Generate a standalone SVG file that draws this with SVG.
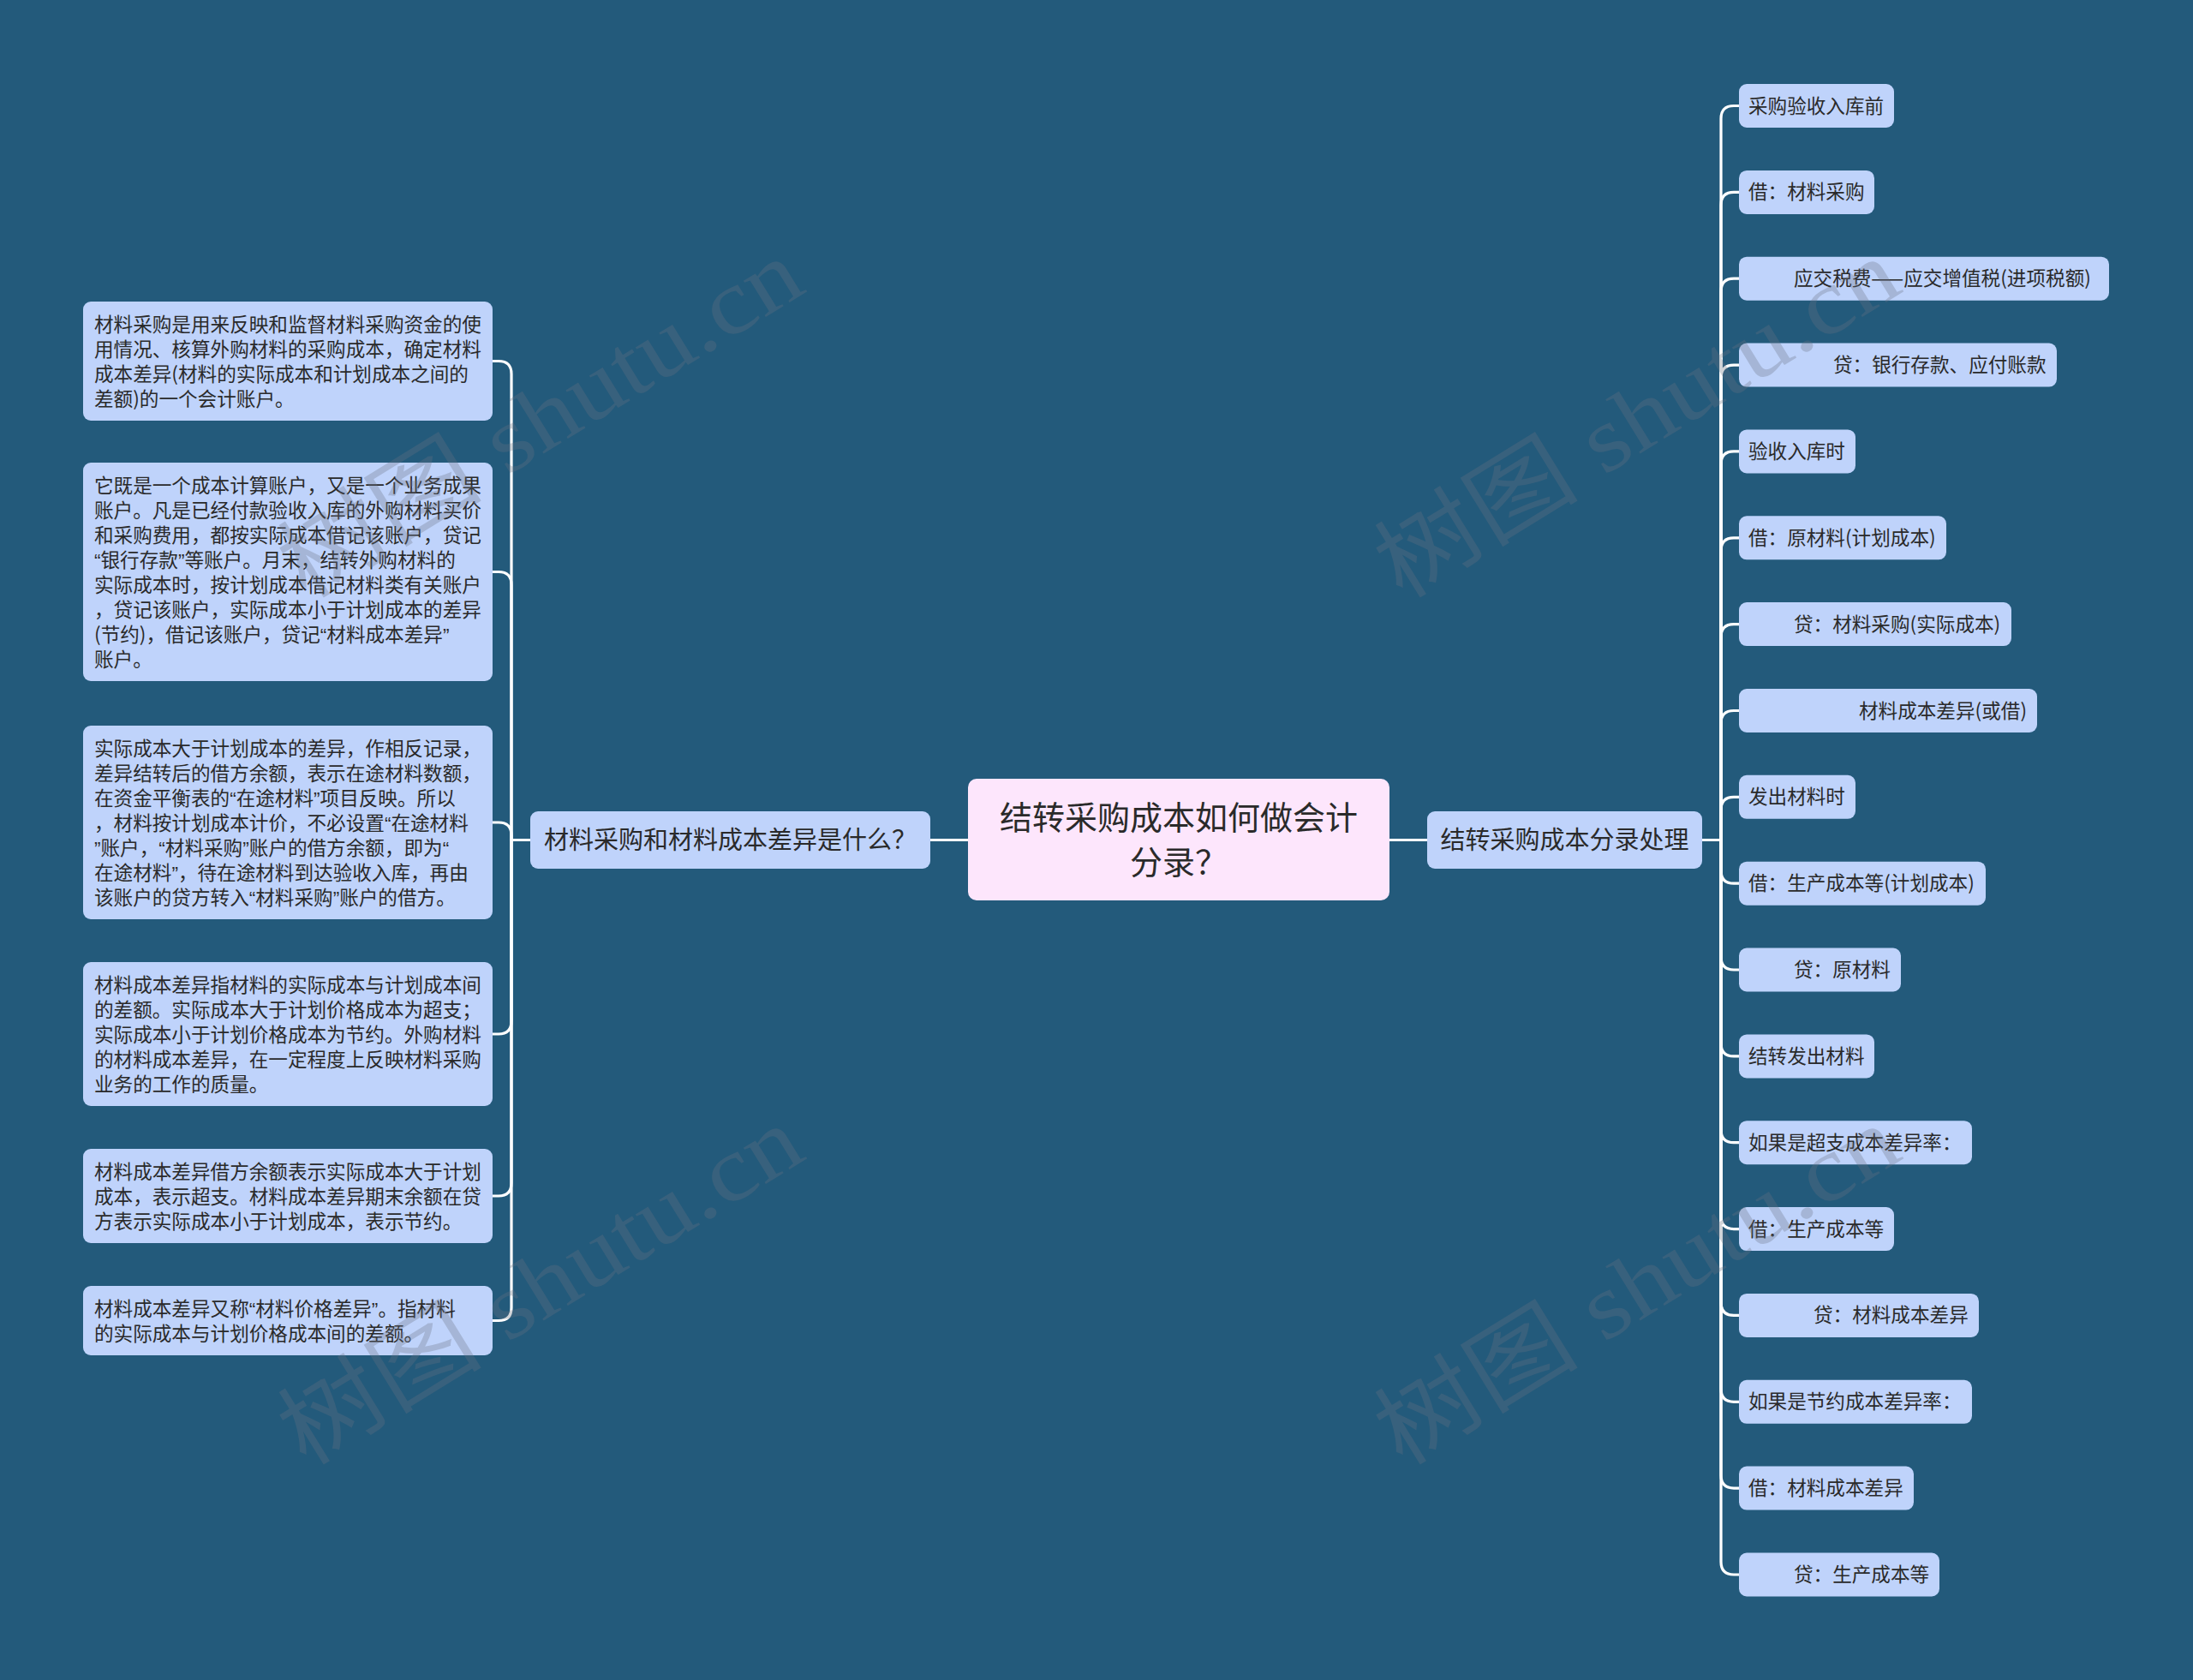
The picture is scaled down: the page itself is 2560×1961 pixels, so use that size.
<svg xmlns="http://www.w3.org/2000/svg" width="2560" height="1961" viewBox="0 0 2560 1961">
<style>
.bg{fill:#235a7b}
.leaf{fill:#bfd3fb}
.root{fill:#fde6fc}
.t{font-family:"Noto Sans CJK SC","Microsoft YaHei",sans-serif;fill:#2a2a2a}
.q{font-family:"Liberation Sans","Noto Sans CJK SC",sans-serif}
.s{font-size:22.6px}
.m{font-size:29px}
.l{font-size:38px}
.c{fill:none;stroke:#ffffff;stroke-width:3.2;stroke-linecap:round;stroke-linejoin:round}
.wm{font-family:"Liberation Serif","Noto Sans CJK SC",serif;font-size:108px;fill:#6a7282;opacity:0.3}
</style>
<rect class="bg" x="0" y="0" width="2560" height="1961"/>

<g id="connectors">
<path class="c" d="M1086 980.5 H1130"/>
<path class="c" d="M1621 980.5 H1666"/>
<path class="c" d="M619 980.5 H597 V436.5 Q597 421.5 582 421.5 H575"/>
<path class="c" d="M619 980.5 H597 V682.5 Q597 667.5 582 667.5 H575"/>
<path class="c" d="M619 980.5 H597 V975 Q597 960 582 960 H575"/>
<path class="c" d="M619 980.5 H597 V1192 Q597 1207 582 1207 H575"/>
<path class="c" d="M619 980.5 H597 V1381 Q597 1396 582 1396 H575"/>
<path class="c" d="M619 980.5 H597 V1526.5 Q597 1541.5 582 1541.5 H575"/>
<path class="c" d="M1987 980.5 H2009 V138.5 Q2009 123.5 2024 123.5 H2030"/>
<path class="c" d="M1987 980.5 H2009 V239.4 Q2009 224.4 2024 224.4 H2030"/>
<path class="c" d="M1987 980.5 H2009 V340.2 Q2009 325.2 2024 325.2 H2030"/>
<path class="c" d="M1987 980.5 H2009 V441.1 Q2009 426.1 2024 426.1 H2030"/>
<path class="c" d="M1987 980.5 H2009 V541.9 Q2009 526.9 2024 526.9 H2030"/>
<path class="c" d="M1987 980.5 H2009 V642.8 Q2009 627.8 2024 627.8 H2030"/>
<path class="c" d="M1987 980.5 H2009 V743.6 Q2009 728.6 2024 728.6 H2030"/>
<path class="c" d="M1987 980.5 H2009 V844.5 Q2009 829.5 2024 829.5 H2030"/>
<path class="c" d="M1987 980.5 H2009 V945.3 Q2009 930.3 2024 930.3 H2030"/>
<path class="c" d="M1987 980.5 H2009 V1016.2 Q2009 1031.2 2024 1031.2 H2030"/>
<path class="c" d="M1987 980.5 H2009 V1117 Q2009 1132 2024 1132 H2030"/>
<path class="c" d="M1987 980.5 H2009 V1217.9 Q2009 1232.9 2024 1232.9 H2030"/>
<path class="c" d="M1987 980.5 H2009 V1318.7 Q2009 1333.7 2024 1333.7 H2030"/>
<path class="c" d="M1987 980.5 H2009 V1419.6 Q2009 1434.6 2024 1434.6 H2030"/>
<path class="c" d="M1987 980.5 H2009 V1520.4 Q2009 1535.4 2024 1535.4 H2030"/>
<path class="c" d="M1987 980.5 H2009 V1621.3 Q2009 1636.3 2024 1636.3 H2030"/>
<path class="c" d="M1987 980.5 H2009 V1722.1 Q2009 1737.1 2024 1737.1 H2030"/>
<path class="c" d="M1987 980.5 H2009 V1823 Q2009 1838 2024 1838 H2030"/>
</g>

<g id="root">
<rect class="root" x="1130" y="909" width="492" height="142" rx="10"/>
<text class="t l" x="1376" y="968" text-anchor="middle">结转采购成本如何做会计</text>
<text class="t l" x="1376" y="1020" text-anchor="middle">分录？</text>
</g>

<g id="branch-left">
<rect class="leaf" x="619" y="947" width="467" height="67" rx="9"/>
<text class="t m" x="852.5" y="990.5" text-anchor="middle">材料采购和材料成本差异是什么？</text>
</g>

<g id="branch-right">
<rect class="leaf" x="1666" y="947" width="321" height="67" rx="9"/>
<text class="t m" x="1826.5" y="990.5" text-anchor="middle">结转采购成本分录处理</text>
</g>

<g id="left-1">
<rect class="leaf" x="97" y="352" width="478" height="139" rx="9"/>
<text class="t s" x="110" y="387">材料采购是用来反映和监督材料采购资金的使</text>
<text class="t s" x="110" y="416">用情况、核算外购材料的采购成本，确定材料</text>
<text class="t s" x="110" y="445">成本差异(材料的实际成本和计划成本之间的</text>
<text class="t s" x="110" y="474">差额)的一个会计账户。</text>
</g>

<g id="left-2">
<rect class="leaf" x="97" y="540" width="478" height="255" rx="9"/>
<text class="t s" x="110" y="575">它既是一个成本计算账户，又是一个业务成果</text>
<text class="t s" x="110" y="604">账户。凡是已经付款验收入库的外购材料买价</text>
<text class="t s" x="110" y="633">和采购费用，都按实际成本借记该账户，贷记</text>
<text class="t s" x="110" y="662"><tspan class="q">“</tspan>银行存款<tspan class="q">”</tspan>等账户。月末，结转外购材料的</text>
<text class="t s" x="110" y="691">实际成本时，按计划成本借记材料类有关账户</text>
<text class="t s" x="110" y="720">，贷记该账户，实际成本小于计划成本的差异</text>
<text class="t s" x="110" y="749">(节约)，借记该账户，贷记<tspan class="q">“</tspan>材料成本差异<tspan class="q">”</tspan></text>
<text class="t s" x="110" y="778">账户。</text>
</g>

<g id="left-3">
<rect class="leaf" x="97" y="847" width="478" height="226" rx="9"/>
<text class="t s" x="110" y="882">实际成本大于计划成本的差异，作相反记录，</text>
<text class="t s" x="110" y="911">差异结转后的借方余额，表示在途材料数额，</text>
<text class="t s" x="110" y="940">在资金平衡表的<tspan class="q">“</tspan>在途材料<tspan class="q">”</tspan>项目反映。所以</text>
<text class="t s" x="110" y="969">，材料按计划成本计价，不必设置<tspan class="q">“</tspan>在途材料</text>
<text class="t s" x="110" y="998"><tspan class="q">”</tspan>账户，<tspan class="q">“</tspan>材料采购<tspan class="q">”</tspan>账户的借方余额，即为<tspan class="q">“</tspan></text>
<text class="t s" x="110" y="1027">在途材料<tspan class="q">”</tspan>，待在途材料到达验收入库，再由</text>
<text class="t s" x="110" y="1056">该账户的贷方转入<tspan class="q">“</tspan>材料采购<tspan class="q">”</tspan>账户的借方。</text>
</g>

<g id="left-4">
<rect class="leaf" x="97" y="1123" width="478" height="168" rx="9"/>
<text class="t s" x="110" y="1158">材料成本差异指材料的实际成本与计划成本间</text>
<text class="t s" x="110" y="1187">的差额。实际成本大于计划价格成本为超支；</text>
<text class="t s" x="110" y="1216">实际成本小于计划价格成本为节约。外购材料</text>
<text class="t s" x="110" y="1245">的材料成本差异，在一定程度上反映材料采购</text>
<text class="t s" x="110" y="1274">业务的工作的质量。</text>
</g>

<g id="left-5">
<rect class="leaf" x="97" y="1341" width="478" height="110" rx="9"/>
<text class="t s" x="110" y="1376">材料成本差异借方余额表示实际成本大于计划</text>
<text class="t s" x="110" y="1405">成本，表示超支。材料成本差异期末余额在贷</text>
<text class="t s" x="110" y="1434">方表示实际成本小于计划成本，表示节约。</text>
</g>

<g id="left-6">
<rect class="leaf" x="97" y="1501" width="478" height="81" rx="9"/>
<text class="t s" x="110" y="1536">材料成本差异又称<tspan class="q">“</tspan>材料价格差异<tspan class="q">”</tspan>。指材料</text>
<text class="t s" x="110" y="1565">的实际成本与计划价格成本间的差额。</text>
</g>

<g id="right-0"><rect class="leaf" x="2030" y="98" width="181" height="51" rx="9"/><text class="t s" x="2041" y="131.5">采购验收入库前</text></g>
<g id="right-1"><rect class="leaf" x="2030" y="198.9" width="158" height="51" rx="9"/><text class="t s" x="2041" y="232.4">借：材料采购</text></g>
<g id="right-2"><rect class="leaf" x="2030" y="299.7" width="432" height="51" rx="9"/><text class="t s" x="2094" y="333.2">应交税费——应交增值税(进项税额)</text></g>
<g id="right-3"><rect class="leaf" x="2030" y="400.6" width="371" height="51" rx="9"/><text class="t s" x="2140" y="434.1">贷：银行存款、应付账款</text></g>
<g id="right-4"><rect class="leaf" x="2030" y="501.4" width="136" height="51" rx="9"/><text class="t s" x="2041" y="534.9">验收入库时</text></g>
<g id="right-5"><rect class="leaf" x="2030" y="602.3" width="242" height="51" rx="9"/><text class="t s" x="2041" y="635.8">借：原材料(计划成本)</text></g>
<g id="right-6"><rect class="leaf" x="2030" y="703.1" width="318" height="51" rx="9"/><text class="t s" x="2094" y="736.6">贷：材料采购(实际成本)</text></g>
<g id="right-7"><rect class="leaf" x="2030" y="804" width="348" height="51" rx="9"/><text class="t s" x="2170" y="837.5">材料成本差异(或借)</text></g>
<g id="right-8"><rect class="leaf" x="2030" y="904.8" width="136" height="51" rx="9"/><text class="t s" x="2041" y="938.3">发出材料时</text></g>
<g id="right-9"><rect class="leaf" x="2030" y="1005.7" width="288" height="51" rx="9"/><text class="t s" x="2041" y="1039.2">借：生产成本等(计划成本)</text></g>
<g id="right-10"><rect class="leaf" x="2030" y="1106.5" width="189" height="51" rx="9"/><text class="t s" x="2094" y="1140">贷：原材料</text></g>
<g id="right-11"><rect class="leaf" x="2030" y="1207.4" width="158" height="51" rx="9"/><text class="t s" x="2041" y="1240.9">结转发出材料</text></g>
<g id="right-12"><rect class="leaf" x="2030" y="1308.2" width="272" height="51" rx="9"/><text class="t s" x="2041" y="1341.7">如果是超支成本差异率：</text></g>
<g id="right-13"><rect class="leaf" x="2030" y="1409.1" width="181" height="51" rx="9"/><text class="t s" x="2041" y="1442.6">借：生产成本等</text></g>
<g id="right-14"><rect class="leaf" x="2030" y="1509.9" width="280" height="51" rx="9"/><text class="t s" x="2117" y="1543.4">贷：材料成本差异</text></g>
<g id="right-15"><rect class="leaf" x="2030" y="1610.8" width="272" height="51" rx="9"/><text class="t s" x="2041" y="1644.3">如果是节约成本差异率：</text></g>
<g id="right-16"><rect class="leaf" x="2030" y="1711.6" width="204" height="51" rx="9"/><text class="t s" x="2041" y="1745.1">借：材料成本差异</text></g>
<g id="right-17"><rect class="leaf" x="2030" y="1812.5" width="234" height="51" rx="9"/><text class="t s" x="2094" y="1846">贷：生产成本等</text></g>

<g id="watermarks">
<text class="wm" transform="translate(650,520) rotate(-31.6)" text-anchor="middle" textLength="690" lengthAdjust="spacingAndGlyphs">树图 shutu.cn</text>
<text class="wm" transform="translate(1930,520) rotate(-31.6)" text-anchor="middle" textLength="690" lengthAdjust="spacingAndGlyphs">树图 shutu.cn</text>
<text class="wm" transform="translate(650,1532) rotate(-31.6)" text-anchor="middle" textLength="690" lengthAdjust="spacingAndGlyphs">树图 shutu.cn</text>
<text class="wm" transform="translate(1930,1532) rotate(-31.6)" text-anchor="middle" textLength="690" lengthAdjust="spacingAndGlyphs">树图 shutu.cn</text>
</g>
</svg>
